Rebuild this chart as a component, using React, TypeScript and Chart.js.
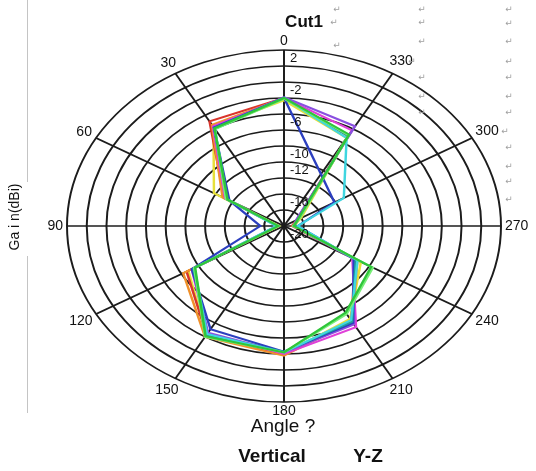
import React, { useEffect, useRef } from 'react';
import { Chart, registerables } from 'chart.js';

Chart.register(...registerables);

// ---- data ----
const ANGLES = [0, 30, 60, 90, 120, 150, 180, 210, 240, 270, 300, 330];
const RADIAL_MIN = -20;
const RADIAL_MAX = 2;
const RADIAL_STEP = 2;
const SHOWN_TICKS = [2, -2, -6, -10, -12, -16, -20];

const GREEN = [-4.0, -5.9, -13.4, -19.4, -9.6, -4.1, -4.2, -7.5, -9.8, -19.0, -18.4, -6.8];
const LIGHT_GREEN = [-4.1, -6.0, -13.2, -19.5, -9.5, -4.0, -4.2, -7.3, -9.6, -19.1, -18.2, -6.9];
const CYAN = [-4.0, -6.0, -13.3, -19.2, -9.5, -4.4, -4.2, -6.4, -11.4, -18.6, -13.0, -7.3];
const TEAL = [-4.0, -5.9, -13.3, -19.4, -9.4, -4.3, -4.3, -6.2, -11.6, -19.0, -18.3, -7.0];
const BLUE = [-4.0, -5.8, -13.6, -17.6, -9.2, -5.1, -4.3, -6.0, -11.8, -18.6, -14.1, -12.5];
const PURPLE = [-3.9, -5.8, -13.3, -19.3, -9.3, -4.6, -4.2, -5.8, -11.9, -19.0, -18.6, -5.6];
const MAGENTA = [-4.0, -5.6, -13.1, -19.3, -9.2, -4.5, -4.0, -5.4, -12.0, -19.0, -18.5, -6.2];
const ORANGE = [-4.0, -5.4, -12.8, -19.5, -8.2, -4.0, -3.8, -6.2, -11.4, -19.0, -18.3, -6.9];
const RED = [-4.0, -4.9, -13.0, -19.5, -8.6, -4.3, -3.9, -6.3, -11.7, -19.2, -18.5, -7.0];
const YELLOW = [-4.3, -5.7, -11.8, -19.3, -8.8, -4.3, -4.0, -6.6, -11.0, -19.0, -18.0, -7.3];

const SERIES = [GREEN, LIGHT_GREEN, CYAN, TEAL, BLUE, PURPLE, MAGENTA, ORANGE, RED, YELLOW];

// ---- styles ----
const SERIES_COLORS = [
  '#2fc63a', '#78ee78', '#3fd6e0', '#1f9e9e', '#2c3fbf',
  '#8a4fe0', '#e040d8', '#f0902a', '#d9342b', '#e6e03a',
];
const X_STRETCH = 217 / 176;
const FONT = '"Liberation Sans", Arial, sans-serif';

const ellipsePlugin = {
  id: 'ellipsePolar',
  beforeDraw(chart: any) {
    const r = chart.scales.r;
    const ctx = chart.ctx;
    ctx.save();
    ctx.translate(r.xCenter, 0);
    ctx.scale(-X_STRETCH, 1);
    ctx.translate(-r.xCenter, 0);
  },
  afterDraw(chart: any) {
    const ctx = chart.ctx;
    ctx.restore();
    const r = chart.scales.r;
    const cx = r.xCenter;
    const cy = r.yCenter;

    ctx.save();
    ctx.fillStyle = '#111';
    // angle labels
    ctx.font = `14px ${FONT}`;
    ctx.textAlign = 'center';
    ctx.textBaseline = 'middle';
    ANGLES.forEach((a, i) => {
      const p = r.getPointPosition(i, r.drawingArea);
      const ex = cx - (p.x - cx) * X_STRETCH;
      const ey = p.y;
      const dx = ex - cx;
      const dy = ey - cy;
      const len = Math.hypot(dx, dy) || 1;
      const ux = dx / len;
      const uy = dy / len;
      const label = String(a);
      const w = ctx.measureText(label).width;
      const h = 10;
      const ext = Math.abs(ux) * w / 2 + Math.abs(uy) * h / 2 + 4;
      ctx.fillText(label, ex + ux * ext, ey + uy * ext);
    });

    // radial tick labels
    ctx.font = `13px ${FONT}`;
    ctx.textAlign = 'left';
    SHOWN_TICKS.forEach((v) => {
      const d = r.getDistanceFromCenterForValue(v);
      ctx.fillText(String(v), cx + 6, cy - d + 8.5);
    });

    // captions
    ctx.textAlign = 'center';
    ctx.font = `bold 17px ${FONT}`;
    ctx.fillText('Cut1', 304, 22);
    ctx.font = `19px ${FONT}`;
    ctx.fillText('Angle ?', 283, 427);
    ctx.font = `bold 19px ${FONT}`;
    ctx.fillText('Vertical', 272, 457);
    ctx.fillText('Y-Z', 368, 457);

    // y axis title
    ctx.save();
    ctx.translate(15, 217);
    ctx.rotate(-Math.PI / 2);
    ctx.font = `14px ${FONT}`;
    ctx.fillText('Ga i n(dBi)', 0, 0);
    ctx.restore();

    // page border line
    ctx.strokeStyle = '#c4c4c4';
    ctx.lineWidth = 1;
    ctx.beginPath();
    ctx.moveTo(27.5, 0);
    ctx.lineTo(27.5, 182);
    ctx.moveTo(27.5, 256);
    ctx.lineTo(27.5, 413);
    ctx.stroke();

    // paragraph marks
    ctx.fillStyle = '#a0a0a0';
    ctx.font = `9px "DejaVu Sans", sans-serif`;
    const marks: Array<[number, number]> = [
      [337, 10], [334, 23], [337, 46],
      [422, 10], [422, 23], [422, 42], [412, 62], [422, 78], [422, 97], [422, 113],
      [509, 10], [509, 24], [509, 42], [509, 62], [509, 78], [509, 97], [509, 113],
      [505, 132], [509, 148], [509, 167], [509, 182], [509, 200],
    ];
    marks.forEach(([x, y]) => ctx.fillText('\u21B5', x, y));
    ctx.restore();
  },
};

export default function App() {
  const ref = useRef<HTMLCanvasElement>(null);

  useEffect(() => {
    const canvas = ref.current;
    if (!canvas) return;
    const chart = new Chart(canvas, {
      type: 'radar',
      data: {
        labels: ANGLES.map(String),
        datasets: SERIES.map((values, i) => ({
          label: `Series ${i + 1}`,
          data: values,
          borderColor: SERIES_COLORS[i],
          backgroundColor: 'transparent',
          borderWidth: 2,
          pointRadius: 0,
          fill: false,
          tension: 0,
          clip: false as any,
        })),
      },
      options: {
        animation: false,
        responsive: true,
        maintainAspectRatio: false,
        layout: { padding: { left: 108, right: 76, top: 50, bottom: 69 } },
        plugins: {
          legend: { display: false },
          tooltip: { enabled: false },
          title: { display: false },
        },
        scales: {
          r: {
            min: RADIAL_MIN,
            max: RADIAL_MAX,
            startAngle: 0,
            ticks: { stepSize: RADIAL_STEP, display: false },
            grid: { circular: true, color: '#1c1c1c', lineWidth: 1.6 },
            angleLines: { display: true, color: '#1c1c1c', lineWidth: 1.6 },
            pointLabels: { display: false },
          },
        },
      },
      plugins: [ellipsePlugin],
    });
    return () => chart.destroy();
  }, []);

  return (
    <div style={{ position: 'absolute', left: 0, top: 0, width: 536, height: 471, background: '#fff' }}>
      <canvas ref={ref} />
    </div>
  );
}
